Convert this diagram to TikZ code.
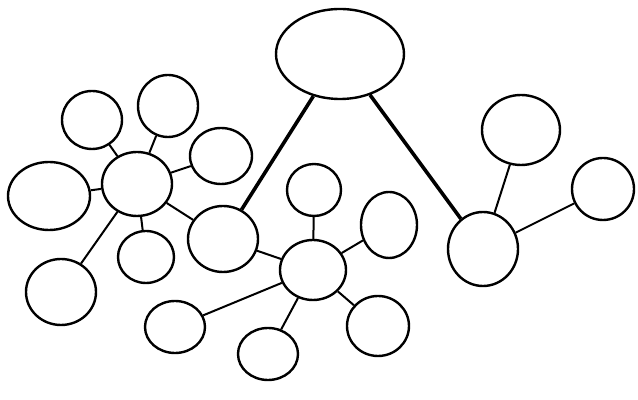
\documentclass[tikz,border=0pt]{standalone}
\usepackage{tikz}
\usetikzlibrary{shapes.geometric}
\tikzset{
    blob/.style 2 args={
           ellipse,
           draw=black, line width=1.2pt,
           inner sep=0pt,
           minimum width=#1pt,
           minimum height=#2pt},
    pil/.style={
           line width=1pt},
    bigPil/.style={
           line width=1.8pt}
}
\begin{document}
\begin{tikzpicture}[x=0.5pt, y=-0.5pt]
	\useasboundingbox (0,0) rectangle (638,400);
	\node[blob={64}{45}] (Root) at (340,54) {};
	% left cluster
	\node[blob={35}{32}] (LeftHub) at (137,184) {};
	\node[blob={30}{29}] (LeftUp) at (92,120) {};
	\node[blob={30}{31}] (LeftTop) at (168,106) {};
	\node[blob={31}{28}] (LeftRight) at (221,156) {};
	\node[blob={41}{34}] (LeftBig) at (49,196) {};
	\node[blob={28}{26}] (LeftDown) at (146,257) {};
	\node[blob={35}{33}] (LeftLow) at (61,292) {};
	\node[blob={35}{33}] (Link) at (223,239) {};
	% middle cluster
	\node[blob={33}{30}] (MidHub) at (313,270) {};
	\node[blob={27}{26}] (MidTop) at (314,190) {};
	\node[blob={28}{33}] (MidRight) at (389,225) {};
	\node[blob={31}{30}] (MidDownRight) at (378,326) {};
	\node[blob={30}{26}] (MidDown) at (268,354) {};
	\node[blob={30}{26}] (MidLeft) at (175,327) {};
	% right cluster
	\node[blob={35}{37}] (RightHub) at (483,249) {};
	\node[blob={39}{35}] (RightUp) at (521,130) {};
	\node[blob={31}{31}] (RightFar) at (603,189) {};
	\draw [bigPil] (Root) -- (Link);
	\draw [bigPil] (Root) -- (RightHub);
	\foreach \n in {LeftUp,LeftTop,LeftRight,LeftBig,LeftDown,LeftLow,Link}
		\draw [pil] (LeftHub) -- (\n);
	\foreach \n in {Link,MidTop,MidRight,MidDownRight,MidDown,MidLeft}
		\draw [pil] (MidHub) -- (\n);
	\draw [pil] (RightHub) -- (RightUp);
	\draw [pil] (RightHub) -- (RightFar);
\end{tikzpicture}
\end{document}
